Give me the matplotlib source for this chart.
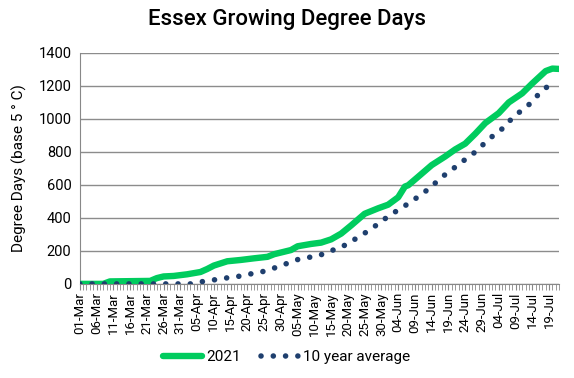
import numpy as np
import pandas as pd
import matplotlib
matplotlib.use("Agg")
import matplotlib.pyplot as plt
import matplotlib.dates as mdates

# Day offsets from 01-Mar-2021 and values
start = pd.Timestamp("2021-03-01")

days_2021 = [0, 7, 9, 21, 23, 25, 28, 32, 36, 38, 40, 44, 48, 52, 56, 58, 61, 63,
             65, 69, 72, 75, 78, 81, 85, 89, 92, 95, 97, 98, 101, 105, 109, 112,
             115, 118, 121, 125, 128, 132, 135, 139, 141, 143]
gdd_2021 = [0, 0, 15, 18, 35, 45, 48, 58, 72, 90, 111, 137, 145, 155, 164, 180, 195, 205,
            228, 242, 250, 270, 305, 355, 425, 458, 480, 525, 590, 598, 650, 720, 772, 815,
            850, 910, 975, 1035, 1100, 1155, 1215, 1290, 1305, 1303]

days_avg = [0, 33, 36, 40, 43, 47, 50, 54, 57, 61, 64, 68, 71, 74, 78, 81, 84, 87,
            90, 93, 96, 99, 102, 105, 107, 110, 113, 116, 119, 121, 124, 127, 129,
            132, 135, 137, 140, 141]
gdd_avg = [0, 0, 12, 24, 34, 44, 57, 71, 89, 117, 143, 160, 168, 194, 222, 257, 295, 333,
           380, 422, 461, 499, 545, 588, 632, 677, 723, 770, 814, 860, 909, 955, 1006,
           1054, 1103, 1153, 1204, 1222]

x_2021 = [start + pd.Timedelta(days=d) for d in days_2021]
x_avg = [start + pd.Timedelta(days=d) for d in days_avg]

plt.rcParams["font.family"] = ["Roboto", "DejaVu Sans"]

fig = plt.figure(figsize=(5.74, 3.78), dpi=100)
ax = fig.add_axes([0.139, 0.249, 0.835, 0.611])

ax.plot(x_2021, gdd_2021, color="#00CC5E", linewidth=4.6, solid_capstyle="round",
        solid_joinstyle="round", label="2021", zorder=3)
ax.plot(x_avg, gdd_avg, color="#1F3F6E", linewidth=4.0, linestyle=(0, (0.01, 2.2)),
        dash_capstyle="round", label="10 year average", zorder=4)

ax.set_ylim(0, 1400)
ax.set_yticks(range(0, 1401, 200))
ax.set_xlim(start, start + pd.Timedelta(days=143))

major = pd.date_range(start, start + pd.Timedelta(days=143), freq="5D")
ax.set_xticks(major)
ax.xaxis.set_major_formatter(mdates.DateFormatter("%d-%b"))
ax.xaxis.set_minor_locator(mdates.DayLocator())
ax.tick_params(axis="x", which="both", rotation=90, labelsize=9.5, length=4,
               color="#888888", pad=2)
ax.tick_params(axis="y", length=0, labelsize=10.5, pad=6)

ax.grid(axis="y", color="#8c8c8c", linewidth=1)
ax.set_axisbelow(True)
for s in ["top", "right"]:
    ax.spines[s].set_visible(False)
for s in ["left", "bottom"]:
    ax.spines[s].set_color("#888888")

ax.set_ylabel("Degree Days (base 5 \u00b0 C)", fontsize=11, labelpad=8)
fig.suptitle("Essex Growing Degree Days", x=0.5, y=0.975, fontsize=16, fontweight="medium")

fig.legend(loc="lower center", bbox_to_anchor=(0.5, 0.0), ncol=2, frameon=False,
           fontsize=11, handlelength=2.5, columnspacing=1.3, handletextpad=0.3)

fig.savefig("out.png", dpi=100)
